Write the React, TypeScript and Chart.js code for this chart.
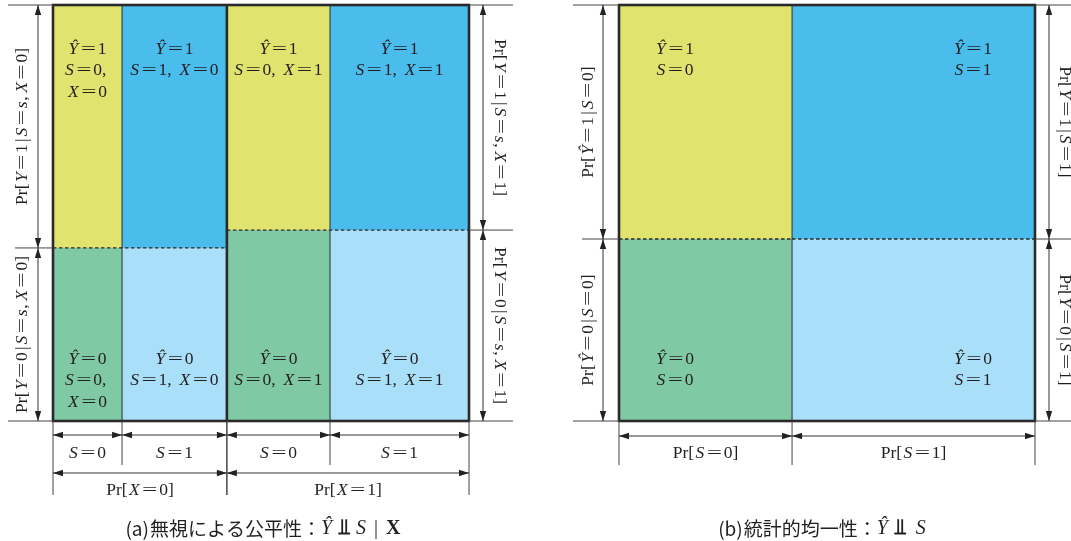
import React, { useEffect, useRef } from 'react';
import { Chart, registerables } from 'chart.js';
Chart.register(...registerables);

const W = 1071;
const H = 541;

// ---- data: panel (a)  Ŷ ⫫ S | X ----
const xLevels = ['0', '1'];
const sLevels = ['0', '1'];
const probX = [0.418, 0.582];            // Pr[X=0], Pr[X=1]
const probS0GivenX = [0.397, 0.426];     // Pr[S=0 | X=x]
const probY1GivenX = [0.584, 0.541];     // Pr[Ŷ=1 | S=s, X=x] (same for both s)
// ---- data: panel (b)  Ŷ ⫫ S ----
const probS = [0.416, 0.584];            // Pr[S=0], Pr[S=1]
const probY1GivenS = [0.5625, 0.5625];   // Pr[Ŷ=1 | S=s]

const captionA = ['(a)', '無視による公平性', '：'];
const captionB = ['(b)', '統計的均一性', '：'];

// ---- layout ----
const BOX = 416;
const TOP = 5;
const BOTTOM = 421;
const A_LEFT = 53;
const B_LEFT = 619;

const cellColor = (y: number, s: number) =>
  y === 1 ? (s === 0 ? '#E0E46F' : '#4BBDEC') : (s === 0 ? '#7FCAA4' : '#AADFF9');
const INK = '#231f20';

type Seg = { t: string; font: string; sx?: number; padL?: number; padR?: number };

function mathSegs(s: string, size: number): Seg[] {
  const serif = `${size}px "Liberation Serif", "DejaVu Serif", serif`;
  const ital = `italic ${serif}`;
  const segs: Seg[] = [];
  let i = 0;
  while (i < s.length) {
    if (s.startsWith('Pr', i)) { segs.push({ t: 'Pr', font: serif }); i += 2; continue; }
    const c = s[i];
    if (c === '=') segs.push({ t: '=', font: serif, sx: 1.55, padL: size * 0.1, padR: size * 0.1 });
    else if (/[A-Za-zŶ]/.test(c)) segs.push({ t: c, font: ital, padR: size * 0.04 });
    else if (c === '|') segs.push({ t: '|', font: serif, padL: size * 0.12, padR: size * 0.12 });
    else if (c === ',') segs.push({ t: ',', font: serif, padR: size * 0.2 });
    else if (c === '[') segs.push({ t: '[', font: serif, padR: size * 0.08 });
    else segs.push({ t: c, font: serif });
    i++;
  }
  return segs;
}

function segWidth(ctx: CanvasRenderingContext2D, segs: Seg[]) {
  let w = 0;
  for (const g of segs) {
    ctx.font = g.font;
    w += (g.padL || 0) + ctx.measureText(g.t).width * (g.sx || 1) + (g.padR || 0);
  }
  return w;
}

function drawSegs(ctx: CanvasRenderingContext2D, segs: Seg[], x: number, y: number) {
  const w = segWidth(ctx, segs);
  let cx = x - w / 2;
  ctx.fillStyle = INK;
  ctx.textBaseline = 'middle';
  ctx.textAlign = 'left';
  for (const g of segs) {
    ctx.font = g.font;
    cx += g.padL || 0;
    const mw = ctx.measureText(g.t).width;
    if (g.sx) {
      ctx.save();
      ctx.translate(cx, y);
      ctx.scale(g.sx, 1);
      ctx.fillText(g.t, 0, 0);
      ctx.restore();
      cx += mw * g.sx;
    } else {
      ctx.fillText(g.t, cx, y);
      cx += mw;
    }
    cx += g.padR || 0;
  }
}

function drawMath(ctx: CanvasRenderingContext2D, s: string, x: number, y: number, size: number, rot = 0) {
  const segs = mathSegs(s, size);
  if (!rot) { drawSegs(ctx, segs, x, y); return; }
  ctx.save();
  ctx.translate(x, y);
  ctx.rotate(rot);
  drawSegs(ctx, segs, 0, 0);
  ctx.restore();
}

function line(ctx: CanvasRenderingContext2D, x1: number, y1: number, x2: number, y2: number, w = 1, color = '#444') {
  ctx.save();
  ctx.strokeStyle = color;
  ctx.lineWidth = w;
  ctx.beginPath();
  ctx.moveTo(x1, y1);
  ctx.lineTo(x2, y2);
  ctx.stroke();
  ctx.restore();
}

function head(ctx: CanvasRenderingContext2D, x: number, y: number, dx: number, dy: number) {
  const L = 10, hw = 3.2;
  const bx = x - dx * L, by = y - dy * L;
  ctx.beginPath();
  ctx.moveTo(x, y);
  ctx.lineTo(bx - dy * hw, by + dx * hw);
  ctx.lineTo(bx + dy * hw, by - dx * hw);
  ctx.closePath();
  ctx.fillStyle = '#222';
  ctx.fill();
}

function dim(ctx: CanvasRenderingContext2D, x1: number, y1: number, x2: number, y2: number) {
  line(ctx, x1, y1, x2, y2, 1, '#333');
  const len = Math.hypot(x2 - x1, y2 - y1);
  const dx = (x2 - x1) / len, dy = (y2 - y1) / len;
  head(ctx, x2, y2, dx, dy);
  head(ctx, x1, y1, -dx, -dy);
}

const mosaicPlugin = {
  id: 'mosaic',
  afterDraw(chart: any) {
    const ctx: CanvasRenderingContext2D = chart.ctx;
    const xa = chart.scales.xa, xb = chart.scales.xb, ys = chart.scales.y;
    const PX = (sc: any, v: number) => sc.getPixelForValue(v);
    const yTop = PX(ys, 1), yBot = PX(ys, 0);
    const FS = 17.5;

    // ================= panel (a) =================
    ctx.save();
    const aL = PX(xa, 0), aR = PX(xa, 1);
    const xBounds: number[] = [0];
    probX.forEach((p, i) => xBounds.push(xBounds[i] + p));
    const splitsA: number[] = [];
    const sBoundsA: number[][] = [];
    xLevels.forEach((xl, xi) => {
      const x0 = xBounds[xi], x1 = xBounds[xi + 1];
      const xm = x0 + probX[xi] * probS0GivenX[xi];
      sBoundsA.push([x0, xm, x1]);
      const ySplit = 1 - probY1GivenX[xi];
      splitsA.push(ySplit);
      const cols = [[x0, xm], [xm, x1]];
      cols.forEach(([c0, c1], si) => {
        const p0 = PX(xa, c0), p1 = PX(xa, c1);
        const pSplit = PX(ys, ySplit);
        ctx.fillStyle = cellColor(1, si);
        ctx.fillRect(p0, yTop, p1 - p0, pSplit - yTop);
        ctx.fillStyle = cellColor(0, si);
        ctx.fillRect(p0, pSplit, p1 - p0, yBot - pSplit);
      });
      line(ctx, PX(xa, xm), yTop, PX(xa, xm), yBot, 1, '#2a2a2a');
      ctx.save();
      ctx.setLineDash([3.5, 2.5]);
      line(ctx, PX(xa, x0), PX(ys, ySplit), PX(xa, x1), PX(ys, ySplit), 1.3, '#2a2a2a');
      ctx.restore();
    });
    line(ctx, PX(xa, xBounds[1]), yTop, PX(xa, xBounds[1]), yBot, 2.6, '#2a2a2a');
    ctx.strokeStyle = '#2a2a2a';
    ctx.lineWidth = 2.6;
    ctx.strokeRect(aL, yTop, aR - aL, yBot - yTop);

    // cell labels
    xLevels.forEach((xl, xi) => {
      const b = sBoundsA[xi];
      sLevels.forEach((sl, si) => {
        const p0 = PX(xa, b[si]), p1 = PX(xa, b[si + 1]);
        const cx = (p0 + p1) / 2;
        const narrow = p1 - p0 < 80;
        [1, 0].forEach((yv) => {
          const lines = narrow
            ? [`Ŷ=${yv}`, `S=${sl},`, `X=${xl}`]
            : [`Ŷ=${yv}`, `S=${sl}, X=${xl}`];
          const y0 = yv === 1 ? yTop + 44 : yBot - 62;
          lines.forEach((t, li) => drawMath(ctx, t, cx, y0 + li * 21.5, FS));
        });
      });
    });

    // left dimension (X=0)
    const spA0 = PX(ys, splitsA[0]);
    line(ctx, 8, yTop, aL, yTop, 1, '#444');
    line(ctx, 15, spA0, aL, spA0, 1, '#444');
    line(ctx, 8, yBot, aL, yBot, 1, '#444');
    dim(ctx, aL - 15, yTop, aL - 15, spA0);
    dim(ctx, aL - 15, spA0, aL - 15, yBot);
    drawMath(ctx, `Pr[Y=1|S=s,X=${xLevels[0]}]`, aL - 31, (yTop + spA0) / 2, FS, -Math.PI / 2);
    drawMath(ctx, `Pr[Y=0|S=s,X=${xLevels[0]}]`, aL - 31, (spA0 + yBot) / 2, FS, -Math.PI / 2);

    // right dimension (X=1)
    const spA1 = PX(ys, splitsA[1]);
    line(ctx, aR, yTop, aR + 44, yTop, 1, '#444');
    line(ctx, aR, spA1, aR + 44, spA1, 1, '#444');
    line(ctx, aR, yBot, aR + 44, yBot, 1, '#444');
    dim(ctx, aR + 14, yTop, aR + 14, spA1);
    dim(ctx, aR + 14, spA1, aR + 14, yBot);
    drawMath(ctx, `Pr[Y=1|S=s,X=${xLevels[1]}]`, aR + 31, (yTop + spA1) / 2, FS, Math.PI / 2);
    drawMath(ctx, `Pr[Y=0|S=s,X=${xLevels[1]}]`, aR + 31, (spA1 + yBot) / 2, FS, Math.PI / 2);

    // bottom dimensions
    xLevels.forEach((xl, xi) => {
      const b = sBoundsA[xi].map((v) => PX(xa, v));
      line(ctx, b[0], yBot, b[0], yBot + 74, 1, '#444');
      line(ctx, b[1], yBot, b[1], yBot + 44, 1, '#444');
      line(ctx, b[2], yBot, b[2], yBot + 74, 1, '#444');
      sLevels.forEach((sl, si) => {
        dim(ctx, b[si], yBot + 14, b[si + 1], yBot + 14);
        drawMath(ctx, `S=${sl}`, (b[si] + b[si + 1]) / 2, yBot + 32, FS);
      });
      dim(ctx, b[0], yBot + 52, b[2], yBot + 52);
      drawMath(ctx, `Pr[X=${xl}]`, (b[0] + b[2]) / 2, yBot + 69, FS);
    });
    ctx.restore();

    // ================= panel (b) =================
    ctx.save();
    const bL = PX(xb, 0), bR = PX(xb, 1);
    const sB = [0, probS[0], 1];
    sLevels.forEach((sl, si) => {
      const p0 = PX(xb, sB[si]), p1 = PX(xb, sB[si + 1]);
      const pSplit = PX(ys, 1 - probY1GivenS[si]);
      ctx.fillStyle = cellColor(1, si);
      ctx.fillRect(p0, yTop, p1 - p0, pSplit - yTop);
      ctx.fillStyle = cellColor(0, si);
      ctx.fillRect(p0, pSplit, p1 - p0, yBot - pSplit);
      ctx.save();
      ctx.setLineDash([3.5, 2.5]);
      line(ctx, p0, pSplit, p1, pSplit, 1.3, '#2a2a2a');
      ctx.restore();
    });
    line(ctx, PX(xb, sB[1]), yTop, PX(xb, sB[1]), yBot, 1, '#2a2a2a');
    ctx.strokeStyle = '#2a2a2a';
    ctx.lineWidth = 2.6;
    ctx.strokeRect(bL, yTop, bR - bL, yBot - yTop);

    sLevels.forEach((sl, si) => {
      const cx = si === 0 ? PX(xb, sB[0]) + 56 : PX(xb, sB[2]) - 62;
      [1, 0].forEach((yv) => {
        const y0 = yv === 1 ? yTop + 44 : yBot - 62;
        drawMath(ctx, `Ŷ=${yv}`, cx, y0, FS);
        drawMath(ctx, `S=${sl}`, cx, y0 + 21.5, FS);
      });
    });

    const spB0 = PX(ys, 1 - probY1GivenS[0]);
    line(ctx, bL - 46, yTop, bL, yTop, 1, '#444');
    line(ctx, bL - 37, spB0, bL, spB0, 1, '#444');
    line(ctx, bL - 46, yBot, bL, yBot, 1, '#444');
    dim(ctx, bL - 16, yTop, bL - 16, spB0);
    dim(ctx, bL - 16, spB0, bL - 16, yBot);
    drawMath(ctx, `Pr[Ŷ=1|S=${sLevels[0]}]`, bL - 31, (yTop + spB0) / 2, FS, -Math.PI / 2);
    drawMath(ctx, `Pr[Ŷ=0|S=${sLevels[0]}]`, bL - 31, (spB0 + yBot) / 2, FS, -Math.PI / 2);

    const spB1 = PX(ys, 1 - probY1GivenS[1]);
    line(ctx, bR, yTop, bR + 40, yTop, 1, '#444');
    line(ctx, bR, spB1, bR + 40, spB1, 1, '#444');
    line(ctx, bR, yBot, bR + 40, yBot, 1, '#444');
    dim(ctx, bR + 14, yTop, bR + 14, spB1);
    dim(ctx, bR + 14, spB1, bR + 14, yBot);
    drawMath(ctx, `Pr[Ŷ=1|S=${sLevels[1]}]`, bR + 30, (yTop + spB1) / 2, FS, Math.PI / 2);
    drawMath(ctx, `Pr[Ŷ=0|S=${sLevels[1]}]`, bR + 30, (spB1 + yBot) / 2, FS, Math.PI / 2);

    const pb = sB.map((v) => PX(xb, v));
    pb.forEach((p) => line(ctx, p, yBot, p, yBot + 44, 1, '#444'));
    sLevels.forEach((sl, si) => {
      dim(ctx, pb[si], yBot + 15, pb[si + 1], yBot + 15);
      drawMath(ctx, `Pr[S=${sl}]`, (pb[si] + pb[si + 1]) / 2, yBot + 32, FS);
    });
    ctx.restore();

    // ================= captions =================
    const cjk = '19px "Noto Sans CJK JP", "Noto Sans", sans-serif';
    const serif = '20px "Liberation Serif", serif';
    const ital = 'italic ' + serif;
    const indep = 'bold 22px "DejaVu Sans", sans-serif';
    const capA: Seg[] = [
      { t: captionA[0], font: cjk },
      { t: captionA[1], font: cjk, padL: 1 },
      { t: captionA[2], font: cjk },
      { t: 'Ŷ', font: ital, padR: 6 },
      { t: '⫫', font: indep, padR: 6 },
      { t: 'S', font: ital, padR: 8 },
      { t: '|', font: serif, padR: 8 },
      { t: 'X', font: 'bold ' + serif },
    ];
    drawSegs(ctx, capA, 263, 529);
    const capB: Seg[] = [
      { t: captionB[0], font: cjk },
      { t: captionB[1], font: cjk, padL: 1 },
      { t: captionB[2], font: cjk },
      { t: 'Ŷ', font: ital, padR: 6 },
      { t: '⫫', font: indep, padR: 10 },
      { t: 'S', font: ital },
    ];
    drawSegs(ctx, capB, 822, 529);
  },
};

export default function App() {
  const ref = useRef<HTMLCanvasElement | null>(null);
  useEffect(() => {
    if (!ref.current) return;
    const chart = new Chart(ref.current, {
      type: 'scatter',
      data: { datasets: [{ data: [], xAxisID: 'xa', yAxisID: 'y' }] },
      options: {
        animation: false,
        responsive: false,
        events: [],
        layout: { padding: 0 },
        plugins: { legend: { display: false }, tooltip: { enabled: false }, title: { display: false } },
        scales: {
          xa: { type: 'linear', axis: 'x', position: 'bottom', display: false, min: -A_LEFT / BOX, max: (W - A_LEFT) / BOX },
          xb: { type: 'linear', axis: 'x', position: 'bottom', display: false, min: -B_LEFT / BOX, max: (W - B_LEFT) / BOX },
          y: { type: 'linear', axis: 'y', position: 'left', display: false, min: -(H - BOTTOM) / BOX, max: BOTTOM / BOX },
        },
      } as any,
      plugins: [mosaicPlugin as any],
    });
    return () => chart.destroy();
  }, []);
  return (
    <div style={{ position: 'fixed', left: 0, top: 0, width: W, height: H, background: '#fff' }}>
      <canvas ref={ref} width={W} height={H} style={{ width: W, height: H, display: 'block' }} />
    </div>
  );
}
